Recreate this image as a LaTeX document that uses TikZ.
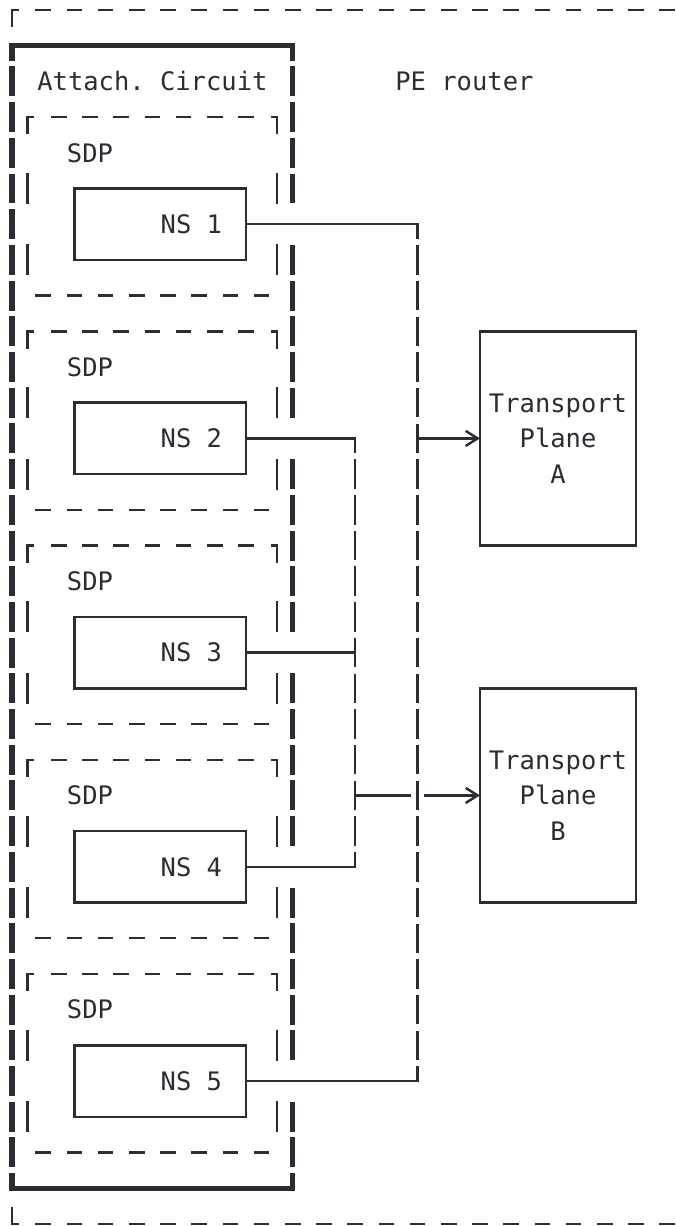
\documentclass[tikz,border=0pt]{standalone}
\usepackage{fontspec}
\setmonofont{DejaVu Sans Mono}
\usepackage{xcolor}
\usetikzlibrary{arrows.meta}
\definecolor{inkgray}{HTML}{2A2D32}

\begin{document}
\begin{tikzpicture}[x=0.312cm,y=-0.714cm]
  \tikzset{
    txt/.style={font=\ttfamily\fontsize{14.5}{20.3}\selectfont,text=inkgray,inner sep=0pt},
    wire/.style={draw=inkgray,line width=1.4pt,line cap=rect},
    heavy/.style={draw=inkgray,line width=3pt},
    vdash/.style={dash pattern=on 0.54cm off 0.174cm,dash phase=0.27cm},
    nsbox/.style={wire,minimum width=3.432cm,minimum height=1.428cm,inner sep=0pt,outer sep=0pt},
    tpbox/.style={wire,txt,align=center,minimum width=3.12cm,minimum height=4.284cm,outer sep=0pt},
    chev/.style={-{Straight Barb[length=0.24cm,width=0.3cm]}},
  }
  \useasboundingbox (-0.769,-0.28) rectangle (42.5,34.06);

  % PE router frame, dashed, runs off to the right.
  \draw[wire] (0,0.45) -- (0,0) -- (0.35,0);
  \draw[wire] (0,33.55) -- (0,34) -- (0.35,34);
  \foreach \cc in {2,4,...,42} {
    \draw[wire] (\cc-0.42,0) -- (\cc+0.42,0);
    \draw[wire] (\cc-0.42,34) -- (\cc+0.42,34);
  }
  \node[txt] (perouter) at (29,2) {PE router};

  % Attachment circuit, heavy frame, cols 0..18, rows 1..33.
  \draw[heavy] (0,1.42) -- (0,1) -- (18,1) -- (18,1.42);
  \draw[heavy] (0,32.58) -- (0,33) -- (18,33) -- (18,32.58);
  \foreach \rr in {2,...,32}
    \draw[heavy] (0,\rr-0.42) -- (0,\rr+0.42);
  \foreach \rr in {2,3,4,5,7,8,9,10,11,13,14,15,16,17,19,20,21,22,23,25,26,27,28,29,31,32}
    \draw[heavy] (18,\rr-0.42) -- (18,\rr+0.42);
  \node[txt] (acirc) at (9,2) {Attach. Circuit};

  % SDP frames with their NS boxes, one every six rows.
  \foreach \k/\rr in {1/3,2/9,3/15,4/21,5/27} {
    \draw[wire] (1,\rr+0.45) -- (1,\rr) -- (1.3,\rr);
    \draw[wire] (16.7,\rr) -- (17,\rr) -- (17,\rr+0.45);
    \foreach \cc in {3,5,...,15}
      \draw[wire] (\cc-0.42,\rr) -- (\cc+0.42,\rr);
    \foreach \cc in {2,4,...,16}
      \draw[wire] (\cc-0.42,\rr+5) -- (\cc+0.42,\rr+5);
    \foreach \dd in {2,4} {
      \draw[wire] (1,\rr+\dd-0.4) -- (1,\rr+\dd+0.4);
      \draw[wire] (17,\rr+\dd-0.4) -- (17,\rr+\dd+0.4);
    }
    \node[txt] (sdp\k) at (5,\rr+1) {SDP};
    \node[nsbox] (ns\k) at (9.5,\rr+3) {};
    \node[txt] (nstext\k) at (11.5,\rr+3) {NS \k};
  }

  % Transport planes.
  \node[tpbox] (tpa) at (35,12) {Transport\\Plane\\A};
  \node[tpbox] (tpb) at (35,22) {Transport\\Plane\\B};

  % Bus corners and taps.
  \coordinate (ja) at (26,6);
  \coordinate (jb) at (26,30);
  \coordinate (ka) at (22,12);
  \coordinate (kb) at (22,24);
  \coordinate (ha) at (26,12);
  \coordinate (hb) at (22,22);

  % NS 1 and NS 5 share the col 26 bus, NS 2..4 the col 22 bus.
  \draw[wire] (ns1.east) -- (ja);
  \draw[wire] (ns5.east) -- (jb);
  \draw[wire,vdash] (ja) -- (jb);
  \draw[wire] (ns2.east) -- (ka);
  \draw[wire] (ns3.east) -- (ns3.east -| ka);
  \draw[wire] (ns4.east) -- (kb);
  \draw[wire,vdash] (ka) -- (kb);

  % Taps into the planes; the B tap hops over the col 26 bus.
  \draw[wire,chev] (ha) -- (tpa.west);
  \draw[wire] (hb) -- ([xshift=-0.16cm]hb -| ha);
  \draw[wire,chev] ([xshift=0.16cm]hb -| ha) -- (tpb.west);
\end{tikzpicture}
\end{document}
